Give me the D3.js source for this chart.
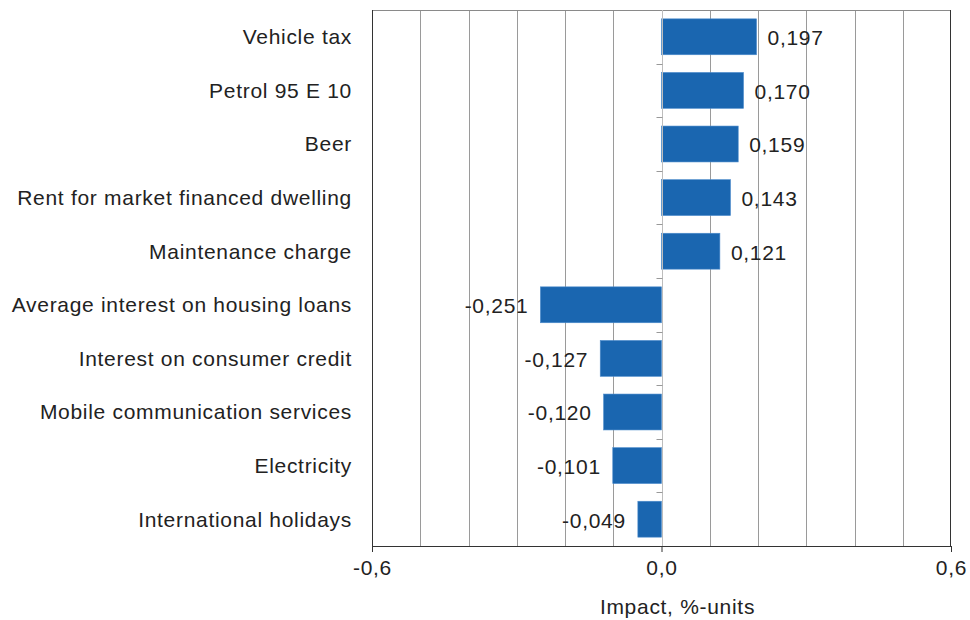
<!DOCTYPE html>
<html><head><meta charset="utf-8">
<script src="https://cdn.jsdelivr.net/npm/d3@7"></script>
<style>body{margin:0;background:#fff}text{font-family:"Liberation Sans",Arial,sans-serif;letter-spacing:0.7px}</style>
</head><body><svg id="c" width="970" height="620"></svg>
<script>
const categories = ["Vehicle tax","Petrol 95 E 10","Beer","Rent for market financed dwelling","Maintenance charge","Average interest on housing loans","Interest on consumer credit","Mobile communication services","Electricity","International holidays"];
const values = [0.197,0.170,0.159,0.143,0.121,-0.251,-0.127,-0.120,-0.101,-0.049];
const xTicks = [-0.6,0,0.6];
const gridTicks = [-0.5,-0.4,-0.3,-0.2,-0.1,0.1,0.2,0.3,0.4,0.5];
const axisTitle = "Impact, %-units";

const FS = 21;
const svg = d3.select("#c");
const L=372,R=951,T=10,B=546;
const x = d3.scaleLinear().domain([-0.6,0.6]).range([L,R]);
const y = d3.scaleBand().domain(categories).range([T,B]).paddingInner(0.33).paddingOuter(0.165);
const fmt = v => d3.format(".3f")(v).replace(".",",").replace("−","-");

// grid
svg.append("g").selectAll("line").data(gridTicks).join("line")
  .attr("x1",d=>Math.round(x(d))+0.5).attr("x2",d=>Math.round(x(d))+0.5).attr("y1",T).attr("y2",B)
  .attr("stroke","#9a9a9a").attr("stroke-width",1);
// top border
svg.append("line").attr("x1",L).attr("x2",R).attr("y1",T+0.5).attr("y2",T+0.5).attr("stroke","#8a8a8a");
// left & right border
svg.append("line").attr("x1",L+0.5).attr("x2",L+0.5).attr("y1",T).attr("y2",B).attr("stroke","#333");
svg.append("line").attr("x1",R-0.5).attr("x2",R-0.5).attr("y1",T).attr("y2",B).attr("stroke","#333");

// bars
svg.append("g").selectAll("rect").data(values).join("rect")
  .attr("x",(d)=>x(Math.min(0,d))).attr("width",d=>Math.abs(x(d)-x(0)))
  .attr("y",(d,i)=>y(categories[i])).attr("height",y.bandwidth())
  .attr("fill","#1a66b0").attr("stroke","#4d8ccc").attr("stroke-width",0.6);

// zero axis
const x0 = Math.round(x(0))+0.5;
svg.append("line").attr("x1",x0).attr("x2",x0).attr("y1",T).attr("y2",B).attr("stroke","#bdbdbd");
const step = (B-T)/categories.length;
svg.append("g").selectAll("line").data(d3.range(1,categories.length)).join("line")
  .attr("x1",x0-6).attr("x2",x0).attr("y1",d=>Math.round(T+d*step)+0.5).attr("y2",d=>Math.round(T+d*step)+0.5)
  .attr("stroke","#999");

// bottom axis
const ax = d3.axisBottom(x).tickValues(xTicks).tickSize(6).tickFormat(d=>d3.format(".1f")(d).replace(".",",").replace("−","-"));
const g = svg.append("g").attr("transform",`translate(0,${B})`).call(ax);
g.select(".domain").attr("stroke","#333");
g.selectAll(".tick line").attr("stroke","#333");
g.selectAll(".tick text").attr("font-size",FS).attr("fill","#222").attr("y",22).attr("dy","0.35em").attr("font-family","Liberation Sans, Arial, sans-serif");

// category labels
svg.append("g").selectAll("text").data(categories).join("text")
  .attr("x",352).attr("y",d=>y(d)+y.bandwidth()/2).attr("dy","0.35em")
  .attr("text-anchor","end").attr("font-size",FS).attr("fill","#222").text(d=>d);

// value labels
svg.append("g").selectAll("text").data(values).join("text")
  .attr("x",d=>d>=0?x(d)+11:x(d)-12).attr("y",(d,i)=>y(categories[i])+y.bandwidth()/2+1).attr("dy","0.35em")
  .attr("text-anchor",d=>d>=0?"start":"end").attr("font-size",FS).attr("fill","#222").text(fmt);

// axis title
svg.append("text").attr("x",x(0)+16).attr("y",607).attr("dy","0.35em").attr("text-anchor","middle")
  .attr("font-size",FS).attr("fill","#222").text(axisTitle);
</script></body></html>
